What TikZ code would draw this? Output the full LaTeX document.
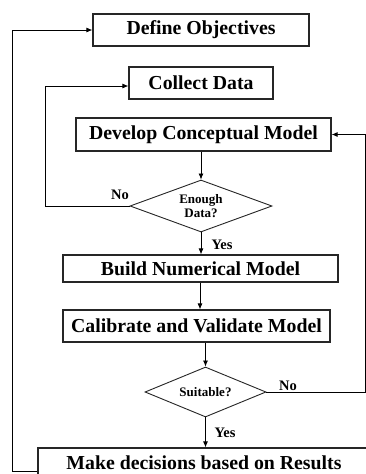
\documentclass[tikz,border=0pt]{standalone}
\usepackage{fontspec}
\setmainfont{Liberation Serif}
\usetikzlibrary{shapes.geometric,arrows.meta}
\begin{document}
\begin{tikzpicture}[x=1pt,y=-1pt,
  box/.style={draw=black!85,line width=1.2pt,inner sep=0pt,font=\fontsize{19.8}{20}\selectfont\bfseries},
  dec/.style={draw=black!85,line width=0.9pt,diamond,aspect=2.7,inner sep=0pt,align=center,font=\fontsize{13}{14.5}\selectfont\bfseries},
  lbl/.style={font=\fontsize{14.5}{15}\selectfont\bfseries,inner sep=0pt},
  conn/.style={draw=black,line width=0.8pt,-{Latex[length=6pt,width=5pt]}}]
\clip (0,0) rectangle (366,474);
\useasboundingbox (0,0) rectangle (366,474);
\fill[white] (0,0) rectangle (366,474);
\node[box,minimum width=216pt,minimum height=32pt] (def) at (201,30) {Define Objectives};
\node[box,minimum width=144pt,minimum height=32pt] (col) at (201,83) {Collect Data};
\node[box,minimum width=255pt,minimum height=33pt] (dev) at (203.5,134.5) {Develop Conceptual Model};
\node[dec,minimum width=142pt,minimum height=52pt] (enough) at (201,206) {Enough\\Data?};
\node[box,minimum width=275pt,minimum height=27pt] (build) at (200.5,268.5) {Build Numerical Model};
\node[box,minimum width=267pt,minimum height=32pt] (cal) at (196.5,326) {Calibrate and Validate Model};
\node[dec,minimum width=121pt,minimum height=50pt] (suit) at (205.5,392) {Suitable?};
\node[box,minimum width=332pt,minimum height=30pt] (make) at (204,463) {Make decisions based on Results};
\coordinate (c1) at (45,206);
\coordinate (c2) at (365,392);
\coordinate (c3) at (12,471);
\draw[conn] (enough.north |- dev.south) -- (enough.north);
\draw[conn] (enough.south) -- (enough.south |- build.north);
\draw[conn] (build.south -| 200,0) -- (200,0 |- cal.north);
\draw[conn] (suit.north |- cal.south) -- (suit.north);
\draw[conn] (suit.south) -- (suit.south |- make.north);
\draw[conn] (enough.west) -- (c1) -- (c1 |- 0,86) -- (col.west |- 0,86);
\draw[conn] (suit.east) -- (c2) -- (c2 |- dev.east) -- (dev.east);
\draw[conn] (make.west |- c3) -- (c3) -- (c3 |- def.west) -- (def.west);
\node[lbl] (no1) at (120,195) {No};
\node[lbl] (yes1) at (222,245) {Yes};
\node[lbl] (no2) at (288,386) {No};
\node[lbl] (yes2) at (225,433) {Yes};
\end{tikzpicture}
\end{document}
